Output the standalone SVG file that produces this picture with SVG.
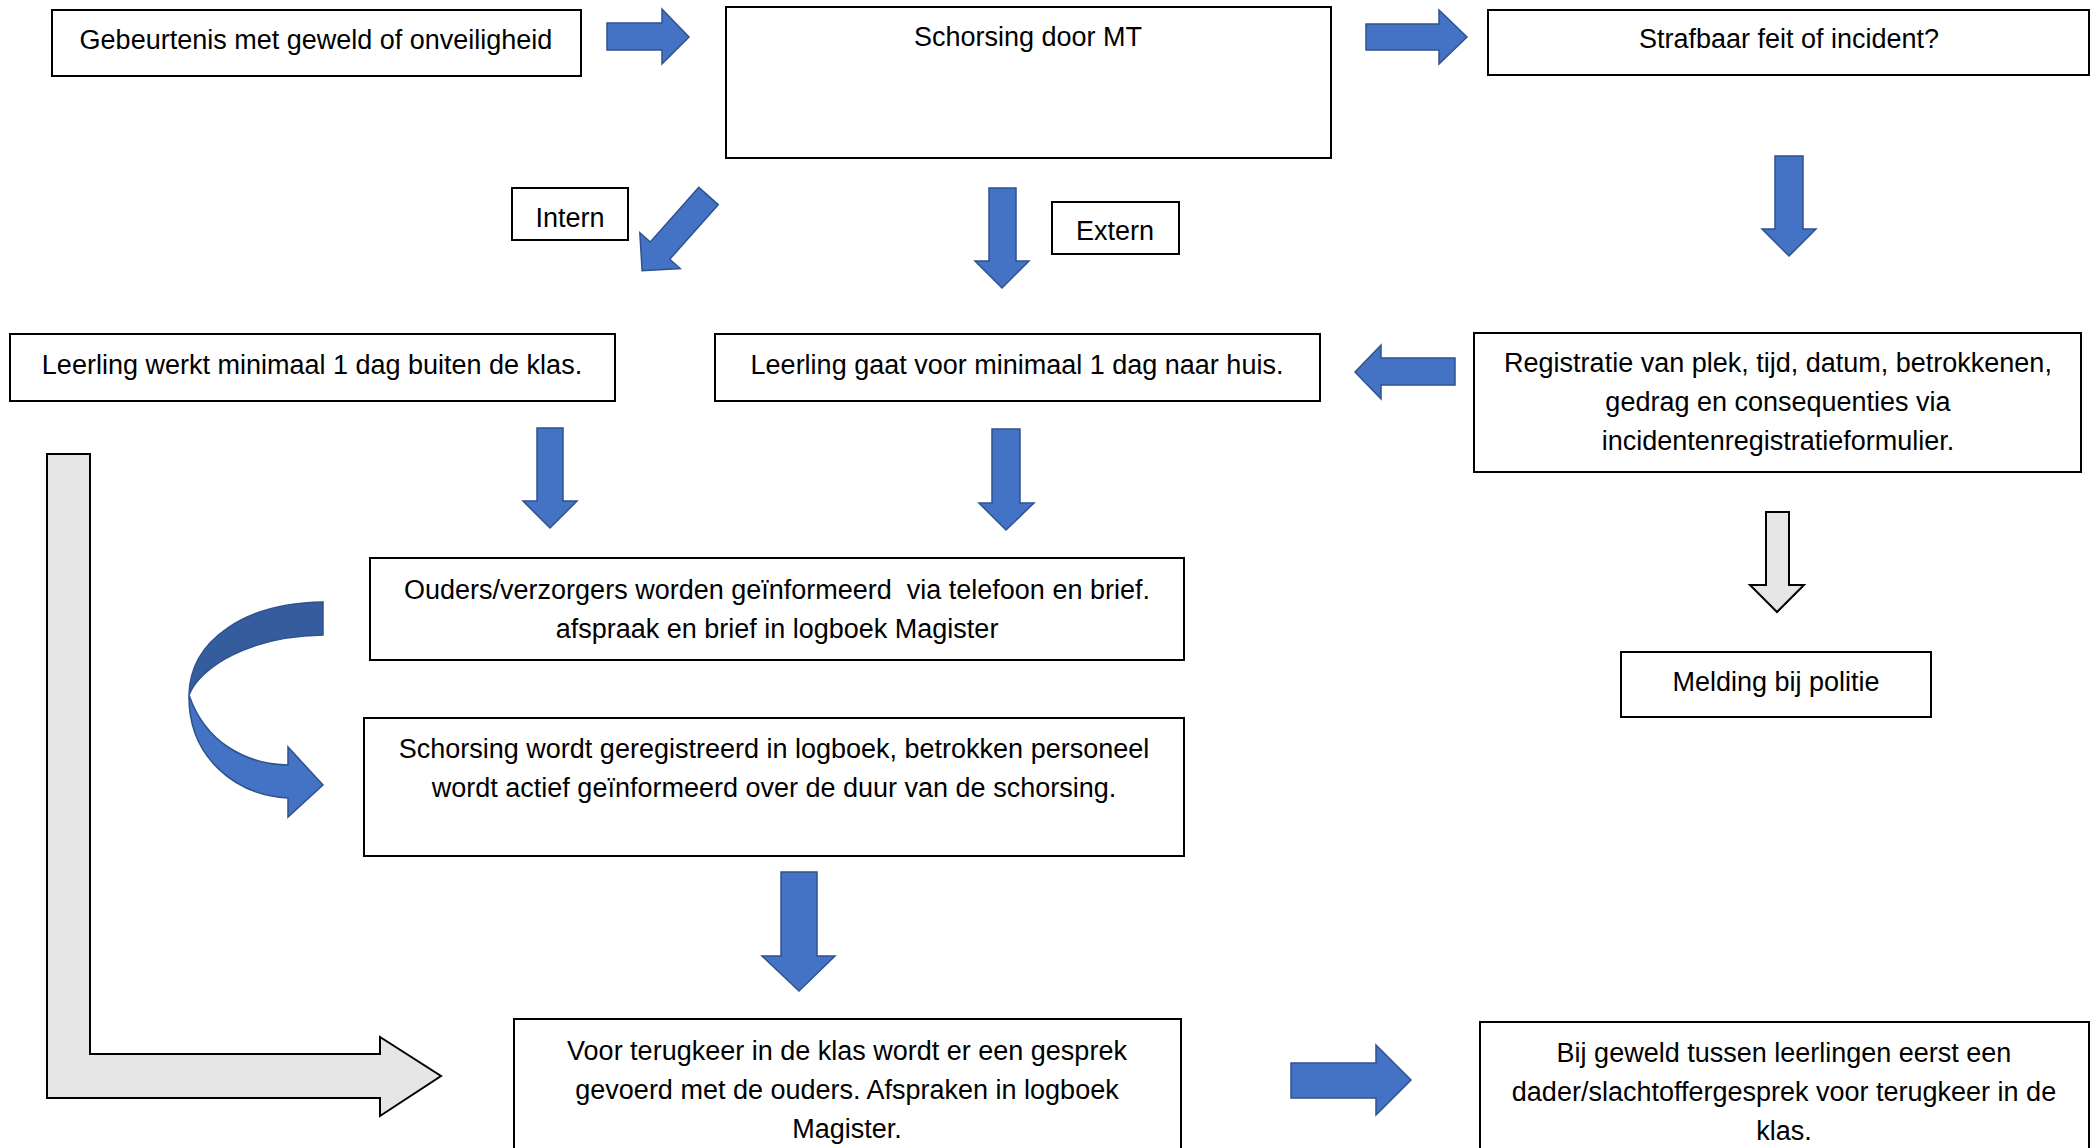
<svg xmlns="http://www.w3.org/2000/svg" width="2096" height="1148" viewBox="0 0 2096 1148">
<style>
.box{fill:#ffffff;stroke:#000000;stroke-width:2}
.t{font-family:"Liberation Sans",Arial,sans-serif;font-size:27px;fill:#000000;text-anchor:middle}
.blue{fill:#4472C4;stroke:#2F528F;stroke-width:1.5;stroke-linejoin:miter}
.grey{fill:#E7E6E6;stroke:#000000;stroke-width:2;stroke-linejoin:miter}
</style>
<rect width="2096" height="1148" fill="#ffffff"/>

<g id="connectors">
<polygon class="blue" points="607,23 662,23 662,9 689,37 662,64 662,50 607,50"/>
<polygon class="blue" points="1366,24 1439,24 1439,10 1467,37 1439,64 1439,50 1366,50"/>
<polygon class="blue" points="0,-13 73,-13 73,-27 100,0 73,27 73,13 0,13" transform="translate(708.5,196) rotate(131.6)"/>
<polygon class="blue" points="989,188 1016,188 1016,261 1029,261 1002,288 975,261 989,261"/>
<polygon class="blue" points="1775,156 1803,156 1803,229 1816,229 1789,256 1762,229 1775,229"/>
<polygon class="blue" points="1455,358 1381,358 1381,345 1355,372 1381,399 1381,385 1455,385"/>
<polygon class="blue" points="537,428 563,428 563,501 577,501 550,528 523,501 537,501"/>
<polygon class="blue" points="992,429 1020,429 1020,503 1034,503 1006,530 979,503 992,503"/>
<polygon class="grey" points="1766,512 1789,512 1789,585 1804,585 1777,612 1750,585 1766,585"/>
<polygon class="blue" points="781,872 817,872 817,956 835,956 799,991 762,956 781,956"/>
<polygon class="blue" points="1291,1063 1376,1063 1376,1045 1411,1080 1376,1115 1376,1098 1291,1098"/>
<path class="grey" d="M47,454 L90,454 L90,1054 L380,1054 L380,1037 L441,1076 L380,1116 L380,1098 L47,1098 Z"/>
<path d="M323,602 C245,603 190,640 189,695 C200,667 250,636 323,635 Z" fill="#355D9E" stroke="#2F528F" stroke-width="1.5"/>
<path d="M189,695 C188,757 235,795 288,798 L288,817 L323,785 L288,747 L288,765 C245,764 205,742 189,695 Z" fill="#4472C4" stroke="#2F528F" stroke-width="1.5"/>
</g>

<g id="n-gebeurtenis">
<rect class="box" x="52" y="10" width="529" height="66"/>
<text class="t" x="316" y="49">Gebeurtenis met geweld of onveiligheid</text>
</g>
<g id="n-schorsing-mt">
<rect class="box" x="726" y="7" width="605" height="151"/>
<text class="t" x="1028" y="46">Schorsing door MT</text>
</g>
<g id="n-strafbaar">
<rect class="box" x="1488" y="10" width="601" height="65"/>
<text class="t" x="1789" y="48">Strafbaar feit of incident?</text>
</g>
<g id="n-intern">
<rect class="box" x="512" y="188" width="116" height="52"/>
<text class="t" x="570" y="227">Intern</text>
</g>
<g id="n-extern">
<rect class="box" x="1052" y="202" width="127" height="52"/>
<text class="t" x="1115" y="240">Extern</text>
</g>
<g id="n-werkt">
<rect class="box" x="10" y="334" width="605" height="67"/>
<text class="t" x="312" y="374">Leerling werkt minimaal 1 dag buiten de klas.</text>
</g>
<g id="n-gaat">
<rect class="box" x="715" y="334" width="605" height="67"/>
<text class="t" x="1017" y="374">Leerling gaat voor minimaal 1 dag naar huis.</text>
</g>
<g id="n-registratie">
<rect class="box" x="1474" y="333" width="607" height="139"/>
<text class="t" x="1778" y="372">Registratie van plek, tijd, datum, betrokkenen,</text>
<text class="t" x="1778" y="411">gedrag en consequenties via</text>
<text class="t" x="1778" y="450">incidentenregistratieformulier.</text>
</g>
<g id="n-melding">
<rect class="box" x="1621" y="652" width="310" height="65"/>
<text class="t" x="1776" y="691">Melding bij politie</text>
</g>
<g id="n-ouders">
<rect class="box" x="370" y="558" width="814" height="102"/>
<text class="t" x="777" y="599" xml:space="preserve">Ouders/verzorgers worden geïnformeerd  via telefoon en brief.</text>
<text class="t" x="777" y="638">afspraak en brief in logboek Magister</text>
</g>
<g id="n-schorsing-log">
<rect class="box" x="364" y="718" width="820" height="138"/>
<text class="t" x="774" y="758">Schorsing wordt geregistreerd in logboek, betrokken personeel</text>
<text class="t" x="774" y="797">wordt actief geïnformeerd over de duur van de schorsing.</text>
</g>
<g id="n-terugkeer">
<rect class="box" x="514" y="1019" width="667" height="150"/>
<text class="t" x="847" y="1060">Voor terugkeer in de klas wordt er een gesprek</text>
<text class="t" x="847" y="1099">gevoerd met de ouders. Afspraken in logboek</text>
<text class="t" x="847" y="1138">Magister.</text>
</g>
<g id="n-dader">
<rect class="box" x="1480" y="1022" width="609" height="150"/>
<text class="t" x="1784" y="1062">Bij geweld tussen leerlingen eerst een</text>
<text class="t" x="1784" y="1101">dader/slachtoffergesprek voor terugkeer in de</text>
<text class="t" x="1784" y="1140">klas.</text>
</g>
</svg>
